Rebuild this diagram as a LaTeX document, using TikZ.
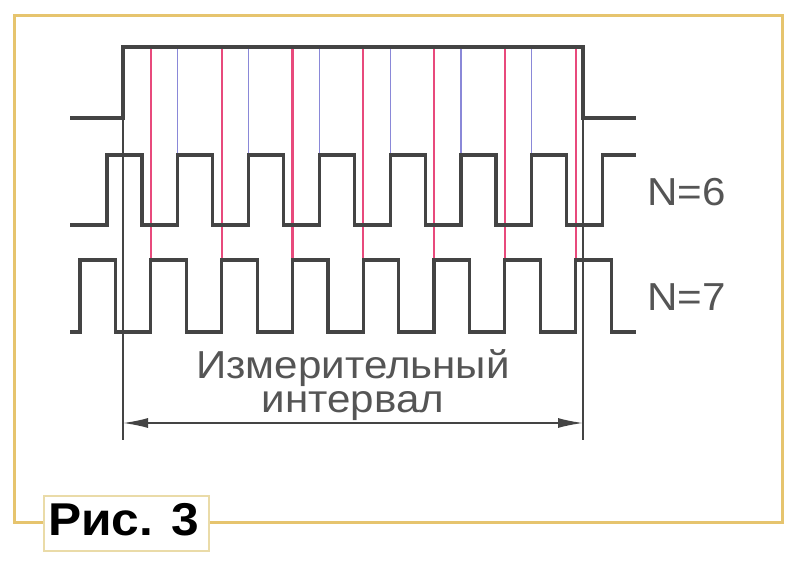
\documentclass[tikz,border=0pt]{standalone}
\usepackage{fontspec}
\setmainfont{Liberation Sans}
\newfontfamily\widefont[FakeStretch=1.08]{Liberation Sans}
\usetikzlibrary{arrows.meta}
\definecolor{frameC}{HTML}{E6C46E}
\definecolor{boxC}{HTML}{EADBA8}
\definecolor{sigC}{HTML}{444444}
\definecolor{redC}{HTML}{E84A7C}
\definecolor{blueC}{HTML}{8A88D8}
\definecolor{txtC}{HTML}{555555}
\tikzset{
  sig/.style={draw=sigC, line width=3.2pt, line join=miter},
  thin/.style={draw=sigC, line width=1.2pt},
  redln/.style={draw=redC, line width=2.2pt},
  blueln/.style={draw=blueC, line width=1.2pt},
  lbl/.style={inner sep=0pt, text=txtC, font=\widefont\fontsize{39}{34}\selectfont},
}
\begin{document}
\begin{tikzpicture}[x=1pt,y=-1pt]
\useasboundingbox (0,0) rectangle (800,565);
\fill[white] (0,0) rectangle (800,565);
% frame
\draw[frameC, line width=3pt] (14,15) rectangle (782,522);
% red lines (N=7 rising edges in the gate)
\foreach \k in {1,...,7}{
  \pgfmathsetmacro{\xx}{80+\k*70.8}
  \draw[redln] (\xx,47) -- (\xx,260);
}
% blue lines (N=6 rising edges in the gate)
\foreach \k in {1,...,6}{
  \pgfmathsetmacro{\xx}{107+\k*70.8}
  \draw[blueln] (\xx,47) -- (\xx,155);
}
% gate thin extensions
\coordinate (gL) at (123,440);
\coordinate (gR) at (583,440);
\draw[thin] (123,118) -- (gL);
\draw[thin] (583,118) -- (gR);
% gate signal
\draw[sig] (70,118) -- (123,118) -- (123,47) -- (583,47) -- (583,118) -- (636,118);
% N=6 signal
\draw[sig] (70,225)
  \foreach \k in {0,...,6}{
    -- ({107+\k*70.8},225) -- ({107+\k*70.8},155) -- ({142+\k*70.8},155) -- ({142+\k*70.8},225)
  }
  -- (602.6,225) -- (602.6,155) -- (636,155);
% N=7 signal
\draw[sig] (70,332)
  \foreach \k in {0,...,7}{
    -- ({80+\k*70.8},332) -- ({80+\k*70.8},260) -- ({115.5+\k*70.8},260) -- ({115.5+\k*70.8},332)
  }
  -- (636,332);
% labels
\node[lbl, anchor=base west] (n6) at (647,205) {N=6};
\node[lbl, anchor=base west] (n7) at (647,310) {N=7};
\node[lbl, align=center, anchor=base] (mi) at (353,412) {Измерительный\\интервал};
% arrow
\coordinate (aL) at (123,423);
\coordinate (aR) at (583,423);
\draw[draw=sigC, line width=1.6pt, {Latex[length=25pt,width=10pt]}-{Latex[length=25pt,width=10pt]}] (aL) -- (aR);
% caption box
\node[draw=boxC, line width=1.5pt, fill=white, minimum width=165pt, minimum height=55pt, inner sep=0pt, anchor=north west] (cap) at (43,495) {};
\node[inner sep=0pt, anchor=base west, font=\widefont\fontsize{46}{46}\selectfont\bfseries] (capt) at (48,535) {Рис. 3};
\end{tikzpicture}
\end{document}
